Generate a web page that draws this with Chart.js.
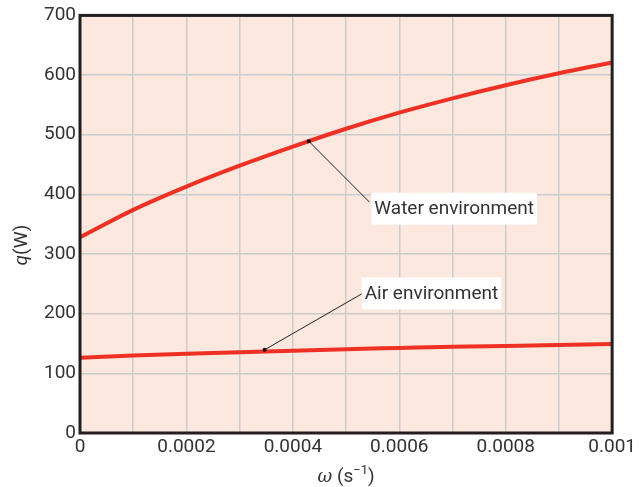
<!DOCTYPE html>
<html>
<head>
<meta charset="utf-8">
<script src="https://cdn.jsdelivr.net/npm/chart.js@4.4.0/dist/chart.umd.min.js"></script>
<style>
  html, body { margin: 0; padding: 0; background: #fff; }
  #wrap { width: 639px; height: 487px; }
</style>
</head>
<body>
<div id="wrap"><canvas id="chart" width="639" height="487"></canvas></div>
<script>
// omega values (1/s)
const omega = [0, 0.0001, 0.0002, 0.0003, 0.0004, 0.0005, 0.0006, 0.0007, 0.0008, 0.0009, 0.001];
// heat rate q (W)
const waterQ = [328, 374, 413, 448, 480, 510, 537, 561, 583, 603, 621];
const airQ = [126, 130, 133, 135.5, 138, 140.5, 142.5, 144.5, 146, 147.5, 149];

// callouts: [label, marker x, marker y, leader end x, leader end y, text left x, text mid y]
const callouts = [
    ['Water environment', 0.00043, 489, 0.000544, 387, 0.000553, 376],
    ['Air environment', 0.000347, 139.5, 0.000529, 233, 0.000535, 234]
];

const FONT = 'Roboto, sans-serif';
const TEXT = '#333333';

const plotDecor = {
    id: 'plotDecor',
    beforeDraw(chart) {
        const { ctx, chartArea: a } = chart;
        ctx.save();
        ctx.fillStyle = '#fce8df';
        ctx.fillRect(a.left, a.top, a.right - a.left, a.bottom - a.top);
        ctx.restore();
    },
    afterDatasetsDraw(chart) {
        const { ctx, chartArea: a } = chart;
        const xs = chart.scales.x, ys = chart.scales.y;
        ctx.save();
        // frame
        ctx.strokeStyle = '#231f20';
        ctx.lineWidth = 3;
        ctx.strokeRect(a.left, a.top, a.right - a.left, a.bottom - a.top);

        // callouts
        ctx.font = '19px ' + FONT;
        ctx.textBaseline = 'middle';
        callouts.forEach(c => {
            const mx = xs.getPixelForValue(c[1]), my = ys.getPixelForValue(c[2]);
            const ex = xs.getPixelForValue(c[3]), ey = ys.getPixelForValue(c[4]);
            const tx = xs.getPixelForValue(c[5]), ty = ys.getPixelForValue(c[6]);
            const w = ctx.measureText(c[0]).width;
            ctx.fillStyle = '#ffffff';
            ctx.fillRect(tx - 3, ty - 16, w + 6, 32);
            ctx.strokeStyle = '#222';
            ctx.lineWidth = 1;
            ctx.beginPath();
            ctx.moveTo(mx, my);
            ctx.lineTo(ex, ey);
            ctx.stroke();
            ctx.fillStyle = '#111';
            ctx.beginPath();
            ctx.arc(mx, my, 2, 0, Math.PI * 2);
            ctx.fill();
            ctx.fillStyle = TEXT;
            ctx.textAlign = 'left';
            ctx.fillText(c[0], tx, ty + 1);
        });

        // x title: ω (s^-1)
        ctx.fillStyle = TEXT;
        ctx.textBaseline = 'alphabetic';
        const cx = (a.left + a.right) / 2;
        const by = 482;
        const p1 = 'ω', p2 = ' (s', p3 = '−1', p4 = ')';
        ctx.font = 'italic 18px "DejaVu Serif", serif';
        const w1 = ctx.measureText(p1).width;
        ctx.font = '19px ' + FONT;
        const w2 = ctx.measureText(p2).width, w4 = ctx.measureText(p4).width;
        ctx.font = '13px ' + FONT;
        const w3 = ctx.measureText(p3).width;
        let x = cx - (w1 + w2 + w3 + w4) / 2;
        ctx.textAlign = 'left';
        ctx.font = 'italic 18px "DejaVu Serif", serif';
        ctx.fillText(p1, x, by); x += w1;
        ctx.font = '19px ' + FONT;
        ctx.fillText(p2, x, by); x += w2;
        ctx.font = '13px ' + FONT;
        ctx.fillText(p3, x, by - 8); x += w3;
        ctx.font = '19px ' + FONT;
        ctx.fillText(p4, x, by);

        // y title: q(W)
        ctx.translate(27, 245);
        ctx.rotate(-Math.PI / 2);
        ctx.font = 'italic 19px ' + FONT;
        const q = 'q';
        const wq = ctx.measureText(q).width;
        ctx.font = '19px ' + FONT;
        const wW = ctx.measureText('(W)').width;
        let yx = -(wq + wW) / 2;
        ctx.font = 'italic 19px ' + FONT;
        ctx.fillText(q, yx, 0);
        ctx.font = '19px ' + FONT;
        ctx.fillText('(W)', yx + wq, 0);
        ctx.restore();
    }
};

const toPts = arr => omega.map((w, i) => ({ x: w, y: arr[i] }));

new Chart(document.getElementById('chart'), {
    type: 'line',
    data: {
        datasets: [
            { label: 'Water environment', data: toPts(waterQ), borderColor: '#ee3124', borderWidth: 4, pointRadius: 0, cubicInterpolationMode: 'monotone' },
            { label: 'Air environment', data: toPts(airQ), borderColor: '#ee3124', borderWidth: 4, pointRadius: 0, cubicInterpolationMode: 'monotone' }
        ]
    },
    options: {
        responsive: false,
        animation: false,
        layout: { padding: { top: 14, right: 26, left: 0, bottom: 0 } },
        plugins: { legend: { display: false }, tooltip: { enabled: false } },
        scales: {
            x: {
                type: 'linear',
                min: 0,
                max: 0.001,
                afterFit: s => { s.height = 54; },
                grid: { color: '#cccccc', lineWidth: 1.5, drawTicks: false },
                border: { display: false },
                ticks: {
                    stepSize: 0.0001,
                    padding: 3,
                    color: TEXT,
                    font: { family: FONT, size: 19 },
                    maxRotation: 0,
                    autoSkip: false,
                    callback: v => Math.round(v / 0.0001) % 2 === 0 ? String(Number(v.toFixed(4))) : ''
                }
            },
            y: {
                min: 0,
                max: 700,
                afterFit: s => { s.width = 80; },
                grid: { color: '#cccccc', lineWidth: 1.5, drawTicks: false },
                border: { display: false },
                ticks: {
                    stepSize: 100,
                    padding: 4,
                    color: TEXT,
                    font: { family: FONT, size: 19 }
                }
            }
        }
    },
    plugins: [plotDecor]
});
</script>
</body>
</html>
